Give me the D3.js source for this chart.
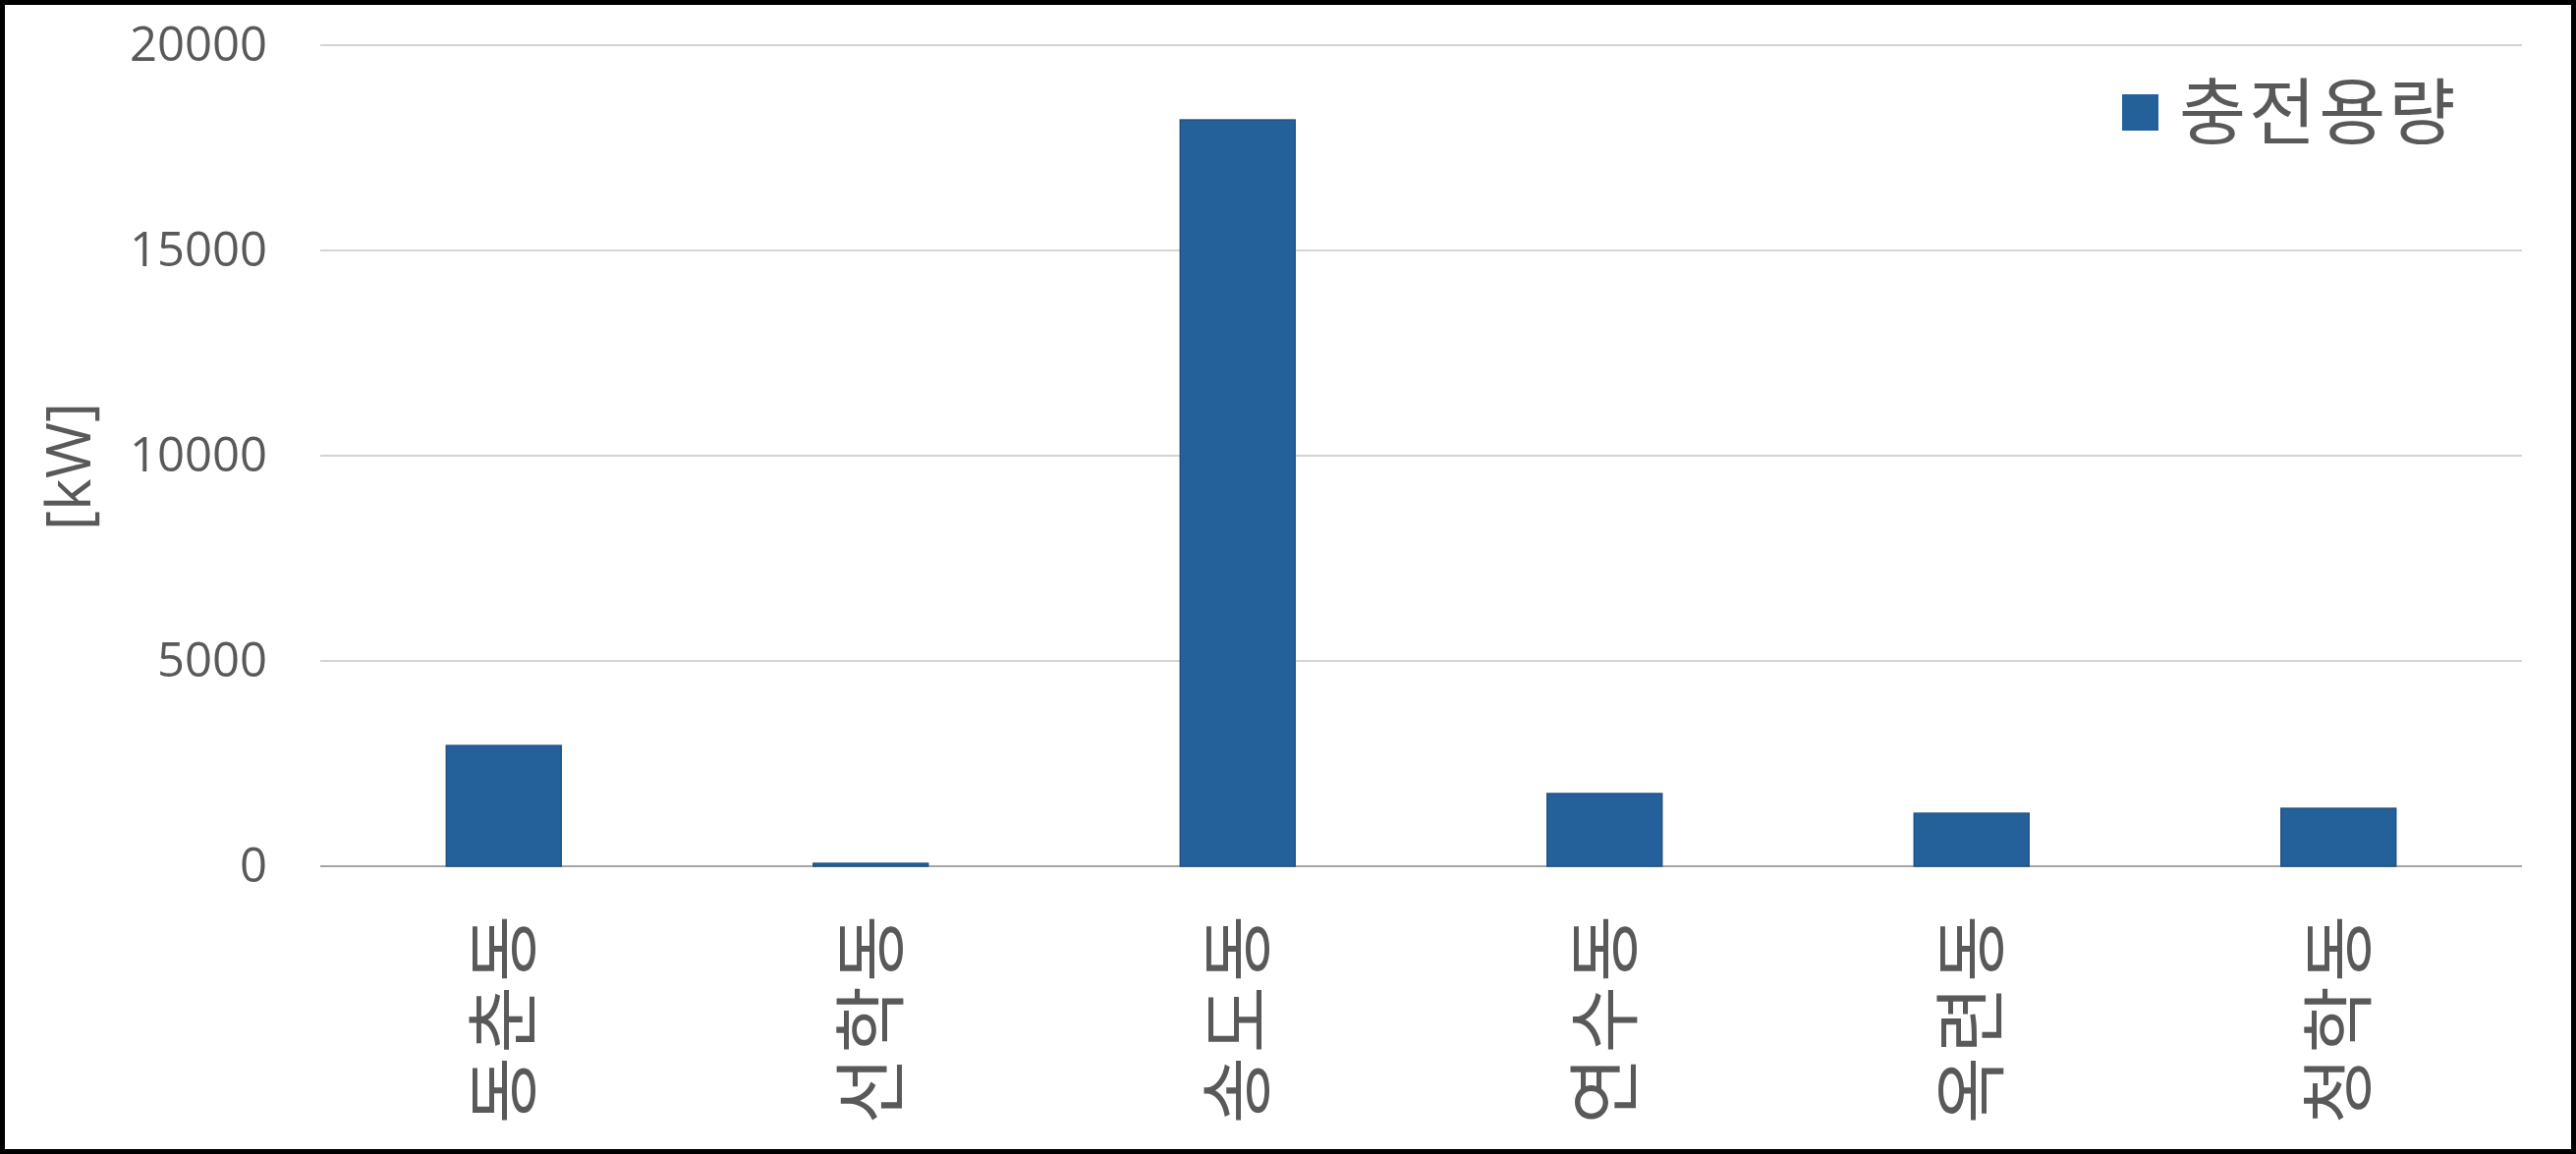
<!DOCTYPE html>
<html>
<head>
<meta charset="utf-8">
<script src="https://cdn.jsdelivr.net/npm/d3@7"></script>
<style>
  html, body { margin: 0; padding: 0; background: #fff; }
  svg { display: block; }
  .tick text, .lbl { fill: #595959; }
</style>
</head>
<body>
<div id="chart"></div>
<script>
/*globals d3, document*/
var categories = ["동춘동", "선학동", "송도동", "연수동", "옥련동", "청학동"];
var values = [2940, 70, 18180, 1770, 1290, 1410];
var yTicks = [0, 5000, 10000, 15000, 20000];
var seriesName = "충전용량";
var yTitle = "[kW]";

(function() {
"use strict";
var W = 2622, H = 1175;
var margin = {top: 46, right: 55, bottom: 293, left: 326};
var KR = "'Noto Sans CJK KR', 'Noto Sans', sans-serif";
var NUM = "'Open Sans', 'Noto Sans', sans-serif";
var barColor = "#24619b";

var svg = d3.select("#chart").append("svg")
  .attr("width", W)
  .attr("height", H);

svg.append("rect")
  .attr("width", W).attr("height", H)
  .attr("fill", "#fff");

var g = svg.append("g")
  .attr("transform", "translate(" + margin.left + "," + margin.top + ")");
var iw = W - margin.left - margin.right,
  ih = H - margin.top - margin.bottom;

var x = d3.scaleBand()
  .domain(categories)
  .range([0, iw])
  .paddingInner(0.687)
  .paddingOuter(0.3435);
var y = d3.scaleLinear()
  .domain([0, 20000])
  .range([ih, 0]);

// gridlines
g.selectAll("line.grid")
  .data(yTicks)
  .enter()
  .append("line")
  .attr("class", "grid")
  .attr("x1", 0).attr("x2", iw)
  .attr("y1", function(d) { return y(d); })
  .attr("y2", function(d) { return y(d); })
  .attr("stroke", function(d) { return d === 0 ? "#a6a6a6" : "#d4d4d4"; })
  .attr("stroke-width", 2);

// y axis labels
var yAxis = g.append("g")
  .call(d3.axisLeft(y).tickValues(yTicks).tickSize(0).tickPadding(54)
    .tickFormat(d3.format("d")));
yAxis.select(".domain").remove();
yAxis.selectAll("text")
  .attr("font-family", NUM)
  .attr("font-size", 49)
  .attr("fill", "#595959");

// bars
g.selectAll("rect.bar")
  .data(values)
  .enter()
  .append("rect")
  .attr("class", "bar")
  .attr("x", function(d, i) { return x(categories[i]); })
  .attr("width", x.bandwidth())
  .attr("y", function(d) { return y(d); })
  .attr("height", function(d) { return ih - y(d); })
  .attr("fill", barColor)
  .attr("stroke", "#1f5286")
  .attr("stroke-width", 1.5);

// x labels, rotated
var xAxis = g.append("g")
  .attr("transform", "translate(0," + ih + ")")
  .call(d3.axisBottom(x).tickSize(0).tickPadding(0));
xAxis.select(".domain").remove();
xAxis.selectAll("text")
  .attr("font-family", KR)
  .attr("font-size", 74)
  .attr("letter-spacing", 4)
  .attr("fill", "#595959")
  .attr("text-anchor", "end")
  .attr("dy", "0.36em")
  .attr("transform", "translate(0,46) rotate(-90)")
  .attr("y", 0)
  .attr("x", 0);

// y title
svg.append("text")
  .attr("class", "lbl")
  .attr("transform", "translate(70,475) rotate(-90)")
  .attr("text-anchor", "middle")
  .attr("dy", "0.35em")
  .attr("font-family", NUM)
  .attr("font-size", 62)
  .text(yTitle);

// legend
var leg = svg.append("g").attr("transform", "translate(2160,96)");
leg.append("rect")
  .attr("width", 37).attr("height", 37)
  .attr("fill", barColor);
leg.append("text")
  .attr("class", "lbl")
  .attr("x", 58)
  .attr("y", 18)
  .attr("dy", "0.36em")
  .attr("font-family", KR)
  .attr("font-size", 74)
  .attr("letter-spacing", 3)
  .text(seriesName);

// outer frame
svg.append("rect")
  .attr("x", 2.5).attr("y", 2.5)
  .attr("width", W - 5).attr("height", H - 5)
  .attr("fill", "none")
  .attr("stroke", "#000")
  .attr("stroke-width", 5);
})();
</script>
</body>
</html>
